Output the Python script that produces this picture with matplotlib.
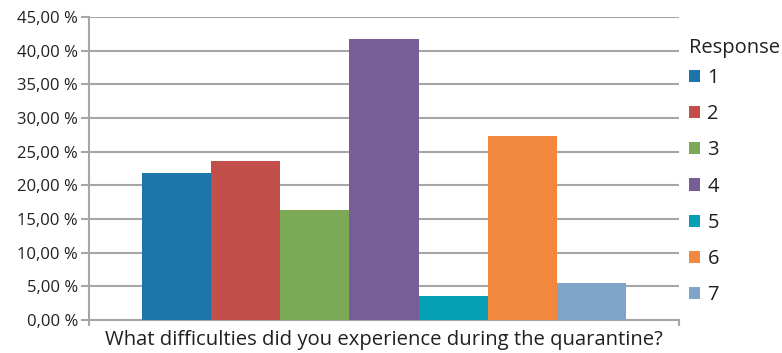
import matplotlib.pyplot as plt
from matplotlib.ticker import FuncFormatter

# ДАННЫЕ
responses = ['1', '2', '3', '4', '5', '6', '7']
shares = [21.8, 23.6, 16.3, 41.8, 3.6, 27.3, 5.5]
colors = ['#1B75AA', '#C34F4B', '#7BA955', '#775E96', '#05A0B3', '#F2883E', '#7EA4CA']
y_ticks = [0, 5, 10, 15, 20, 25, 30, 35, 40, 45]

plt.rcParams['font.family'] = ['Open Sans', 'DejaVu Sans']

fig = plt.figure(figsize=(7.82, 3.53), dpi=100)
ax = fig.add_axes([0.1138, 0.0935, 0.7545, 0.8583])

pos = list(range(len(responses)))
bars = ax.bar(pos, shares, width=1.0, color=colors, zorder=3)

# оси и сетка
ax.set_ylim(0, 45)
ax.set_xlim(-1.27, 7.27)
ax.set_yticks(y_ticks)
ax.yaxis.set_major_formatter(FuncFormatter(lambda v, _: f'{v:.2f} %'.replace('.', ',')))
ax.grid(axis='y', color='#A6A6A6', linewidth=1.5, zorder=0)
ax.set_xticks([-1.27, 7.27])
ax.set_xticklabels(['', ''])

for s in ['top', 'right']:
    ax.spines[s].set_visible(False)
for s in ['left', 'bottom']:
    ax.spines[s].set_color('#A6A6A6')
    ax.spines[s].set_linewidth(1.5)

ax.tick_params(axis='y', direction='out', length=6, width=1.5, color='#A6A6A6',
               labelsize=12, labelcolor='#231F20', pad=2)
ax.tick_params(axis='x', direction='out', length=4, width=1.5, color='#A6A6A6')

ax.set_xlabel('What difficulties did you experience during the quarantine?',
              fontsize=14.6, color='#231F20', labelpad=0)

leg = ax.legend(bars, responses, title='Response', frameon=False,
                loc='upper left', bbox_to_anchor=(1.014, 0.937),
                handlelength=0.55, handleheight=0.55, handletextpad=0.35,
                labelspacing=0.8, fontsize=14.5, title_fontsize=14.5,
                borderaxespad=0.0, borderpad=0.1)
leg._legend_box.align = 'left'
leg._legend_box.sep = 7.3  # меньше зазор под заголовком
for t in leg.get_texts():
    t.set_color('#231F20')
leg.get_title().set_color('#231F20')

fig.savefig('out.png', dpi=100)
